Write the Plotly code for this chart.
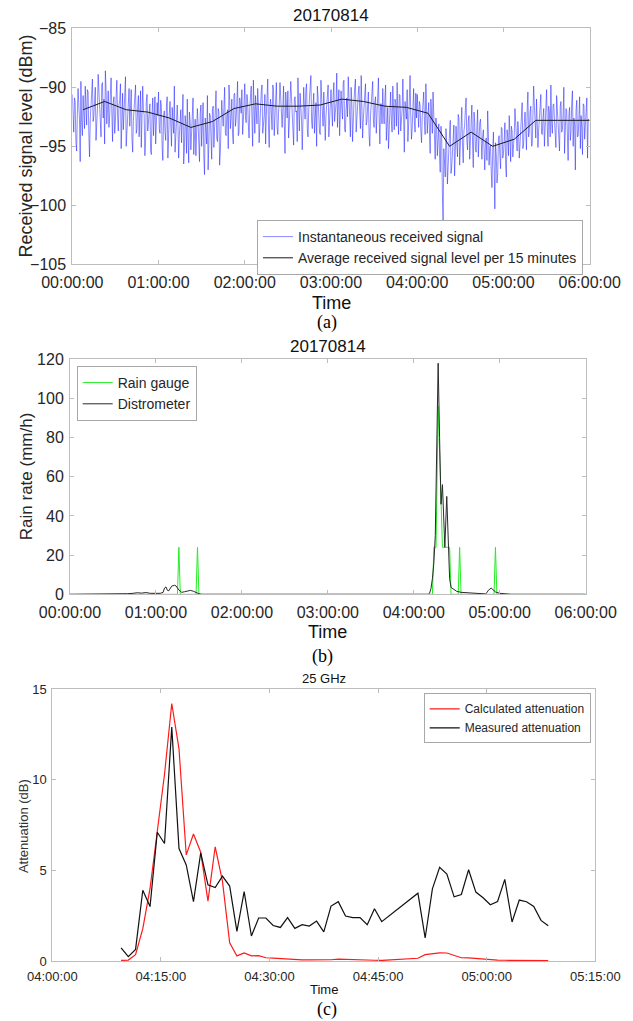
import pandas as pd
import plotly.graph_objects as go

DAY = "2017-08-14 "

# ---------------- Panel (a): received signal ----------------
# samples on the full minute
sig_values_min = [
    -90.6, -93.8, -91.2, -95.4, -90.1, -92.7, -89.5, -94.1, -91.8, -89.9, -93.2, -90.4, -95.9, -91.5, -89.3,
    -92.4, -90.0, -93.6, -88.9, -91.7, -94.2, -89.6, -91.0, -88.6, -93.1, -90.3, -92.5, -89.2, -94.6, -90.8,
    -92.9, -89.4, -93.7, -91.1, -95.2, -90.5, -92.2, -89.1, -94.0, -91.6, -93.3, -90.2, -95.5, -91.9, -89.8,
    -93.5, -90.7, -92.8, -95.1, -89.9, -92.3, -94.4, -90.6, -93.0, -91.4, -95.7, -90.9, -92.6, -94.8, -91.3,
    -90.4, -93.9, -91.7, -96.2, -92.0, -94.5, -90.8, -93.4, -91.2, -95.0, -92.6, -89.9, -94.2, -91.5, -96.0,
    -92.8, -94.7, -90.6, -95.3, -93.1, -91.0, -96.4, -92.9, -94.0, -90.9, -93.6, -95.8, -91.8, -94.3, -92.2,
    -95.0, -91.3, -97.4, -93.7, -90.7, -94.9, -92.4, -96.1, -91.6, -93.9, -90.3, -94.6, -92.1, -95.5, -91.1,
    -93.3, -90.0, -94.1, -91.9, -89.8, -93.5, -91.0, -94.8, -90.5, -92.7, -89.5, -93.8, -91.4, -90.2, -92.9,
    -89.7, -93.0, -91.2, -94.3, -90.4, -92.6, -89.4, -93.9, -91.8, -90.1, -94.7, -91.5, -89.8, -93.2, -90.6,
    -92.4, -89.3, -95.1, -91.0, -93.6, -90.2, -92.8, -89.6, -94.0, -91.4, -90.7, -93.4, -89.9, -95.6, -91.7,
    -90.3, -93.1, -89.5, -92.5, -94.9, -90.8, -92.0, -89.2, -93.7, -91.3, -95.3, -90.0, -92.7, -89.7, -94.2,
    -91.1, -89.0, -93.5, -90.5, -92.3, -95.0, -90.9, -93.8, -89.4, -92.1, -90.4, -94.5, -91.6, -89.8, -93.0,
    -90.2, -93.3, -89.6, -92.0, -88.8, -91.5, -94.1, -90.3, -92.7, -89.4, -93.8, -90.9, -89.1, -92.4, -90.0,
    -94.6, -91.2, -89.3, -93.0, -90.5, -92.2, -89.0, -94.3, -91.0, -89.7, -92.9, -90.4, -95.0, -91.6, -89.5,
    -93.4, -90.8, -92.5, -89.2, -94.8, -91.4, -90.1, -93.1, -89.8, -92.3, -95.2, -90.6, -92.8, -89.9, -93.6,
    -91.3, -89.6, -94.0, -90.7, -92.6, -89.3, -95.5, -91.8, -90.2, -93.2, -89.0, -94.4, -91.5, -92.9, -90.5,
    -90.6, -93.4, -91.5, -94.7, -90.9, -92.8, -89.7, -93.9, -91.3, -95.6, -92.1, -90.4, -94.2, -92.6, -95.8,
    -93.1, -97.2, -94.0, -101.3, -96.3, -93.5, -98.2, -95.1, -92.8, -96.7, -94.4, -97.5, -93.3, -95.9, -92.6,
    -94.8, -91.7, -96.4, -93.2, -90.9, -95.3, -92.4, -94.6, -91.5, -96.8, -93.0, -95.5, -91.9, -94.2, -92.7,
    -96.1, -93.6, -97.0, -94.3, -92.0, -96.6, -94.9, -98.5, -93.8, -100.3, -95.7, -97.3, -94.1, -96.9, -93.5,
    -95.6, -93.0, -97.6, -94.2, -92.4, -96.3, -93.7, -95.2, -91.8, -94.6, -92.9, -96.0, -93.4, -91.3, -94.8,
    -92.1, -95.3, -90.4, -93.7, -91.6, -94.9, -89.9, -93.2, -91.0, -95.1, -92.5, -90.6, -94.0, -91.8, -93.5,
    -90.2, -95.0, -92.3, -89.8, -93.9, -91.4, -94.6, -90.7, -92.9, -95.4, -91.2, -93.6, -90.0, -94.3, -92.0,
    -96.2, -91.7, -93.8, -90.3, -92.6, -97.0, -91.1, -94.1, -90.8, -92.4, -95.7, -91.5, -93.3, -90.9, -92.7,
]
# samples on the half minute
sig_values_half = [
    -92.8, -90.9, -94.6, -92.3, -91.4, -96.3, -93.0, -90.7, -93.5, -92.1, -90.2, -94.0, -92.7, -90.5, -92.9,
    -91.1, -94.5, -91.8, -90.4, -93.0, -89.8, -92.6, -94.8, -90.1, -91.9, -93.4, -90.6, -92.0, -91.3, -93.9,
    -90.7, -92.4, -91.5, -89.7, -92.9, -93.6, -91.0, -95.0, -92.3, -90.1, -91.7, -94.3, -92.8, -90.6, -93.9,
    -91.6, -94.2, -90.3, -93.3, -92.0, -95.8, -91.2, -93.7, -92.5, -95.4, -92.2, -94.1, -90.8, -93.0, -92.4,
    -93.5, -91.1, -95.1, -92.5, -93.8, -91.6, -96.0, -92.3, -94.4, -91.7, -93.9, -95.5, -92.0, -93.2, -94.1,
    -91.9, -93.0, -96.5, -92.4, -95.6, -94.2, -92.1, -95.3, -91.4, -95.7, -92.7, -94.4, -93.0, -96.3, -91.5,
    -93.4, -95.9, -92.6, -94.8, -97.0, -92.2, -93.8, -91.9, -95.1, -92.7, -94.3, -91.8, -96.6, -93.1, -92.4,
    -91.7, -93.8, -92.3, -95.2, -91.1, -92.5, -93.9, -90.6, -93.3, -91.2, -94.1, -90.9, -92.2, -94.0, -90.8,
    -92.5, -90.6, -93.2, -91.7, -89.9, -95.0, -92.0, -90.7, -93.1, -91.5, -92.8, -90.3, -93.9, -92.4, -94.8,
    -90.9, -93.3, -91.6, -92.2, -89.8, -94.1, -91.3, -93.4, -92.1, -89.6, -92.9, -91.8, -93.0, -90.4, -92.6,
    -94.3, -91.5, -90.8, -93.6, -91.0, -92.1, -94.6, -91.9, -90.5, -92.8, -93.2, -91.7, -90.2, -93.5, -92.0,
    -90.6, -92.9, -91.6, -93.9, -91.3, -89.9, -92.5, -94.0, -90.9, -93.3, -91.8, -92.4, -90.1, -94.2, -91.4,
    -91.8, -90.7, -92.9, -91.4, -93.4, -90.2, -92.3, -91.7, -89.6, -93.6, -91.9, -92.5, -90.8, -94.2, -91.3,
    -92.1, -90.0, -93.8, -91.6, -89.9, -93.5, -91.8, -92.7, -90.6, -93.2, -91.1, -94.1, -92.4, -90.3, -92.8,
    -91.2, -93.9, -90.5, -92.6, -91.4, -93.1, -92.2, -90.9, -94.5, -91.7, -92.9, -90.4, -93.8, -92.1, -91.0,
    -93.3, -92.0, -90.6, -93.7, -91.9, -94.0, -91.2, -92.7, -94.6, -90.8, -92.3, -93.5, -90.1, -93.8, -92.6,
    -92.8, -91.2, -93.7, -92.4, -90.4, -94.0, -91.8, -92.5, -93.6, -91.0, -93.9, -92.8, -96.1, -93.4, -94.5,
    -95.7, -93.3, -99.0, -95.2, -97.6, -94.9, -96.1, -93.8, -97.3, -95.0, -93.2, -96.0, -94.7, -92.3, -96.6,
    -93.1, -95.0, -93.7, -91.8, -94.5, -92.9, -96.1, -93.6, -94.8, -92.1, -95.3, -93.4, -95.9, -93.0, -94.6,
    -94.2, -95.3, -94.6, -96.2, -93.9, -95.1, -97.2, -95.4, -96.8, -94.7, -98.1, -94.4, -95.8, -93.4, -96.0,
    -94.5, -96.5, -93.6, -95.8, -94.1, -93.3, -95.9, -94.0, -93.1, -95.4, -93.8, -94.7, -92.5, -95.2, -93.1,
    -93.6, -91.9, -94.2, -92.1, -95.0, -92.3, -91.5, -94.3, -92.7, -93.6, -91.2, -93.9, -92.6, -95.0, -92.2,
    -93.4, -91.6, -94.2, -93.0, -91.5, -92.8, -95.1, -92.0, -94.0, -91.6, -93.8, -92.3, -95.6, -91.8, -93.5,
    -92.4, -94.5, -91.3, -95.0, -93.1, -91.9, -94.2, -92.6, -95.2, -93.4, -91.4, -94.4, -92.2, -96.0, -92.8,
]
sig_values = [v for pair in zip(sig_values_min, sig_values_half) for v in pair]
sig_times = pd.date_range(DAY + "00:00:00", periods=len(sig_values), freq="30s")

avg_times = ["00:07:30", "00:22:30", "00:37:30", "00:52:30", "01:07:30", "01:22:30",
             "01:37:30", "01:52:30", "02:07:30", "02:22:30", "02:37:30", "02:52:30",
             "03:07:30", "03:22:30", "03:37:30", "03:52:30", "04:07:30", "04:22:30",
             "04:37:30", "04:52:30", "05:07:30", "05:22:30", "05:37:30", "05:52:30", "06:00:00"]
avg_values = [-91.9, -91.2, -91.9, -92.1, -92.6, -93.4, -92.9, -91.8, -91.4, -91.6, -91.6, -91.5,
              -91.0, -91.2, -91.6, -91.7, -92.2, -95.0, -93.8, -95.0, -94.4, -92.8, -92.8, -92.8, -92.8]

# ---------------- Panel (b): rain rate ----------------
gauge_times = ["00:00:00", "01:15:00", "01:16:00", "01:17:00", "01:28:00", "01:29:00", "01:30:00",
               "04:13:00", "04:14:00", "04:15:30", "04:17:00", "04:19:00", "04:20:00", "04:22:00",
               "04:23:00", "04:25:00", "04:26:00", "04:31:00", "04:32:00", "04:33:00",
               "04:56:00", "04:57:00", "04:58:00", "06:00:00"]
gauge_values = [0, 0, 24, 0, 0, 24, 0,
                0, 24, 24, 96, 48, 24, 24,
                24, 24, 0, 0, 24, 0,
                0, 24, 0, 0]

disdro_times = ["00:00:00", "00:38:00", "00:40:00", "00:44:00", "00:47:00", "00:50:00", "00:53:00",
                "00:56:00", "01:00:00", "01:03:00", "01:05:00", "01:06:00", "01:07:00", "01:08:00",
                "01:09:00", "01:11:00", "01:13:00", "01:14:00", "01:16:00", "01:18:00", "01:20:00",
                "01:22:00", "01:24:00", "01:26:00", "01:28:00", "01:30:00", "01:32:00",
                "04:10:00", "04:11:00", "04:12:00", "04:13:00", "04:14:00", "04:15:00", "04:16:00",
                "04:17:00", "04:18:00", "04:19:00", "04:20:00", "04:21:00", "04:21:40", "04:23:00",
                "04:24:00", "04:25:00", "04:26:00", "04:27:00", "04:28:00", "04:30:00", "04:33:00",
                "04:40:00", "04:45:00", "04:48:00", "04:50:00", "04:51:00", "04:52:00", "04:54:00",
                "04:55:00", "04:57:00", "05:00:00", "05:05:00", "05:08:00", "06:00:00"]
disdro_values = [0, 0, 0.3, 0.5, 0.8, 0.6, 0.9,
                 0.5, 0.6, 0.5, 1.0, 3.2, 3.8, 2.0,
                 1.8, 4.2, 4.6, 4.3, 2.2, 1.0, 1.3,
                 1.6, 2.0, 1.6, 0.9, 0.3, 0,
                 0, 0.5, 3, 8, 16, 30, 75,
                 118, 80, 46, 56, 35, 24, 50,
                 25, 8, 3.5, 3, 2.2, 1.5, 1.0,
                 0.6, 0.4, 0.3, 0.2, 0.8, 2.0, 3.2,
                 2.6, 1.2, 0.5, 0.2, 0, 0]

# ---------------- Panel (c): attenuation at 25 GHz ----------------
att_times_1 = pd.date_range(DAY + "04:09:30", periods=37, freq="1min")
att_times_2 = pd.date_range(DAY + "04:50:30", periods=19, freq="1min")
att_times = list(att_times_1) + list(att_times_2)
measured_att = [0.73, 0.24, 0.64, 3.9, 3.0, 7.1, 6.48, 12.9, 6.2, 5.3, 3.27, 5.96, 4.2, 4.05, 4.68,
                4.13, 1.63, 3.83, 1.38, 2.37, 2.37, 1.96, 1.85, 2.39, 1.8, 2.0, 1.93, 2.2, 1.61, 3.03,
                3.27, 2.48, 2.39, 2.39, 2.0, 2.88, 2.17,
                3.74, 1.27, 3.98, 5.17, 4.79, 3.54, 3.67, 5.03, 3.8, 3.49, 3.1, 3.28, 4.5, 2.15,
                3.36, 3.27, 3.01, 2.24, 1.95]
calculated_att = [0.03, 0.05, 0.35, 1.78, 4.0, 7.0, 10.3, 14.2, 11.7, 5.85, 7.0, 6.0, 3.3, 6.3, 4.4,
                  1.0, 0.28, 0.45, 0.28, 0.3, 0.18, 0.16, 0.13, 0.1, 0.07, 0.06, 0.06, 0.05, 0.05, 0.07,
                  0.1, 0.08, 0.06, 0.05, 0.04, 0.04, 0.03,
                  0.15, 0.35, 0.4, 0.45, 0.44, 0.33, 0.18, 0.17, 0.13, 0.1, 0.06, 0.05, 0.04, 0.04,
                  0.03, 0.03, 0.03, 0.02, 0.02]

# ---------------- Figure ----------------
W, H = 633, 1021
FONT = "Liberation Sans, Arial, Helvetica, sans-serif"
SERIF = "Liberation Serif, Times New Roman, serif"
TXT = "#262626"
AX = "#bdbdbd"


def px(x):
    return x / W


def py(y):
    return 1 - y / H


fig = go.Figure()

fig.add_trace(go.Scatter(x=sig_times, y=sig_values, mode="lines", name="Instantaneous received signal",
                         line=dict(color="rgba(20,20,255,0.7)", width=0.7), xaxis="x", yaxis="y",
                         legend="legend"))
fig.add_trace(go.Scatter(x=[DAY + t for t in avg_times], y=avg_values, mode="lines",
                         name="Average received signal level per 15 minutes",
                         line=dict(color="#1a1a1a", width=1), xaxis="x", yaxis="y", legend="legend"))

fig.add_trace(go.Scatter(x=[DAY + t for t in gauge_times], y=gauge_values, mode="lines", name="Rain gauge",
                         line=dict(color="#22ee22", width=1), xaxis="x2", yaxis="y2", legend="legend2"))
fig.add_trace(go.Scatter(x=[DAY + t for t in disdro_times], y=disdro_values, mode="lines",
                         name="Distrometer", line=dict(color="#2a2a2a", width=1), xaxis="x2", yaxis="y2",
                         legend="legend2"))

fig.add_trace(go.Scatter(x=att_times, y=calculated_att, mode="lines", name="Calculated attenuation",
                         line=dict(color="#ff1a1a", width=1.2), xaxis="x3", yaxis="y3", legend="legend3"))
fig.add_trace(go.Scatter(x=att_times, y=measured_att, mode="lines", name="Measured attenuation",
                         line=dict(color="#111111", width=1.2), xaxis="x3", yaxis="y3", legend="legend3"))


def xax(domain, rng, dtick, size, anchor, standoff):
    return dict(domain=domain, range=rng, type="date", dtick=dtick, tickformat="%H:%M:%S",
                showline=True, linecolor=AX, linewidth=1, mirror="allticks", ticks="inside",
                ticklen=4, tickcolor=AX, showgrid=False, zeroline=False, anchor=anchor,
                automargin=False, ticklabelstandoff=standoff,
                tickfont=dict(family=FONT, size=size, color=TXT))


def yax(domain, rng, dtick, size, anchor):
    return dict(domain=domain, range=rng, dtick=dtick, showline=True, linecolor=AX, linewidth=1,
                mirror="allticks", ticks="inside", ticklen=4, tickcolor=AX, showgrid=False,
                zeroline=False, anchor=anchor, automargin=False, ticklabelstandoff=2,
                tickfont=dict(family=FONT, size=size, color=TXT))


fig.update_layout(
    width=W, height=H, margin=dict(l=0, r=0, t=0, b=0, autoexpand=False),
    paper_bgcolor="white", plot_bgcolor="white",
    font=dict(family=FONT, color=TXT),
    xaxis=xax([px(72.3), px(589.7)], [DAY + "00:00:00", DAY + "06:00:00"], 3600000, 16, "y", 3),
    yaxis=yax([py(264.3), py(28.3)], [-105, -85], 5, 16, "x"),
    xaxis2=xax([px(70), px(585.7)], [DAY + "00:00:00", DAY + "06:00:00"], 3600000, 16, "y2", 3),
    yaxis2=yax([py(594.3), py(359.3)], [0, 120], 20, 16, "x2"),
    xaxis3=xax([px(52.3), px(595.3)], [DAY + "04:00:00", DAY + "05:15:00"], 900000, 13, "y3", 3),
    yaxis3=yax([py(961), py(689)], [0, 15], 5, 13, "x3"),
    legend=dict(x=px(583), y=py(220), xanchor="right", yanchor="top", bgcolor="white",
                bordercolor="#a8a8a8", borderwidth=1, font=dict(family=FONT, size=14, color=TXT),
                tracegroupgap=0, itemwidth=30),
    legend2=dict(x=px(76.7), y=py(366), xanchor="left", yanchor="top", bgcolor="white",
                 bordercolor="#a8a8a8", borderwidth=1, font=dict(family=FONT, size=14, color=TXT),
                 tracegroupgap=0, itemwidth=30),
    legend3=dict(x=px(590.7), y=py(693.3), xanchor="right", yanchor="top", bgcolor="white",
                 bordercolor="#a8a8a8", borderwidth=1, font=dict(family=FONT, size=12, color=TXT),
                 tracegroupgap=0, itemwidth=30),
    showlegend=True,
)

ann = []


def text(x, y, s, size, family=FONT, angle=0, color="#111111"):
    ann.append(dict(x=px(x), y=py(y), xref="paper", yref="paper", text=s, showarrow=False,
                    xanchor="center", yanchor="middle", textangle=angle,
                    font=dict(family=family, size=size, color=color)))


# panel (a)
text(331, 15, "20170814", 17)
text(331, 303, "Time", 18)
text(25, 146.5, "Received signal level (dBm)", 18, angle=-90, color=TXT)
text(327, 322, "(a)", 18, family=SERIF, color="#000000")
# panel (b)
text(328, 346, "20170814", 17)
text(328, 632, "Time", 18)
text(26.5, 476.7, "Rain rate (mm/h)", 17, angle=-90, color=TXT)
text(322, 656, "(b)", 18, family=SERIF, color="#000000")
# panel (c)
text(324, 678, "25 GHz", 13)
text(324, 989, "Time", 13)
text(23.3, 825.8, "Attenuation (dB)", 13, angle=-90, color="#333333")
text(327, 1009, "(c)", 18, family=SERIF, color="#000000")

fig.update_layout(annotations=ann)

fig.write_html("out.html")
